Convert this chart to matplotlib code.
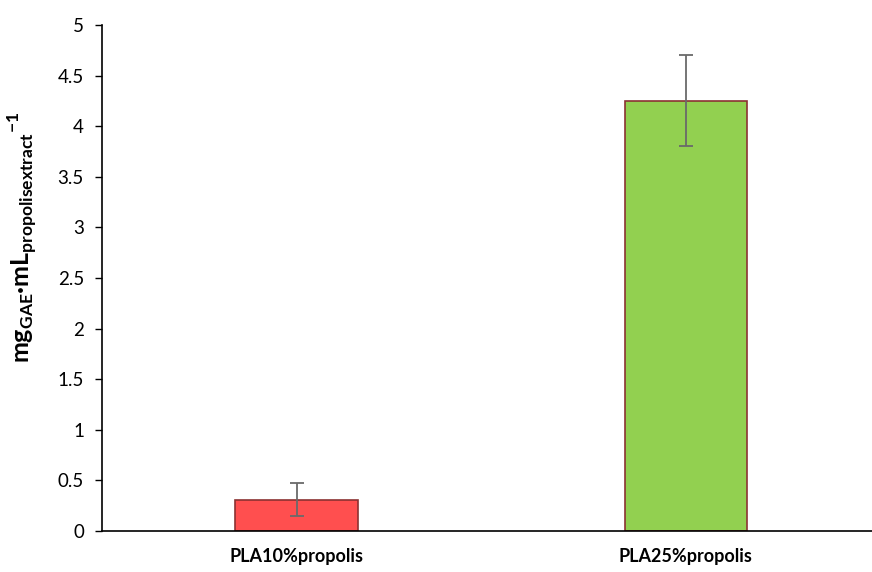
import matplotlib.pyplot as plt
import numpy as np

plt.rcParams['font.family'] = ['Lato', 'DejaVu Sans']
plt.rcParams['mathtext.fontset'] = 'custom'
plt.rcParams['mathtext.rm'] = 'Lato'
plt.rcParams['mathtext.bf'] = 'Lato:bold'

# data
categories = ['PLA10%propolis', 'PLA25%propolis']
values = [0.31, 4.25]
errors = [0.16, 0.45]
colors = ['#ff4f4f', '#92d050']

fig = plt.figure(figsize=(8.72, 5.72), dpi=100)
ax = fig.add_axes([102 / 872, 41 / 572, 770 / 872, 506 / 572])

x = np.arange(len(categories))
ax.bar(x, values, width=0.315, color=colors, edgecolor='#8b3232', linewidth=1.2,
       yerr=errors, error_kw=dict(ecolor='#6a6a6a', elinewidth=1.3, capsize=5, capthick=1.3))

ax.set_xlim(-0.5, 1.478)
ax.set_ylim(0, 5)
ax.set_yticks(np.arange(0, 5.01, 0.5))
ax.set_yticklabels(['0', '0.5', '1', '1.5', '2', '2.5', '3', '3.5', '4', '4.5', '5'])
ax.set_xticks(x)
ax.set_xticklabels(categories, fontweight='bold', fontsize=13)
ax.tick_params(axis='x', length=0, pad=12)
ax.tick_params(axis='y', labelsize=13.5, length=5, width=1, direction='out', pad=8)

for s in ['top', 'right']:
    ax.spines[s].set_visible(False)
ax.spines['left'].set_linewidth(1.2)
ax.spines['bottom'].set_linewidth(1.2)

ax.set_ylabel(r'$\mathbf{mg_{GAE}{\bullet}mL_{propolisextract}}^{\mathbf{-1}}$', fontsize=18)
ax.yaxis.set_label_coords(-0.082, 0.58)

fig.savefig('out.png', dpi=100)
